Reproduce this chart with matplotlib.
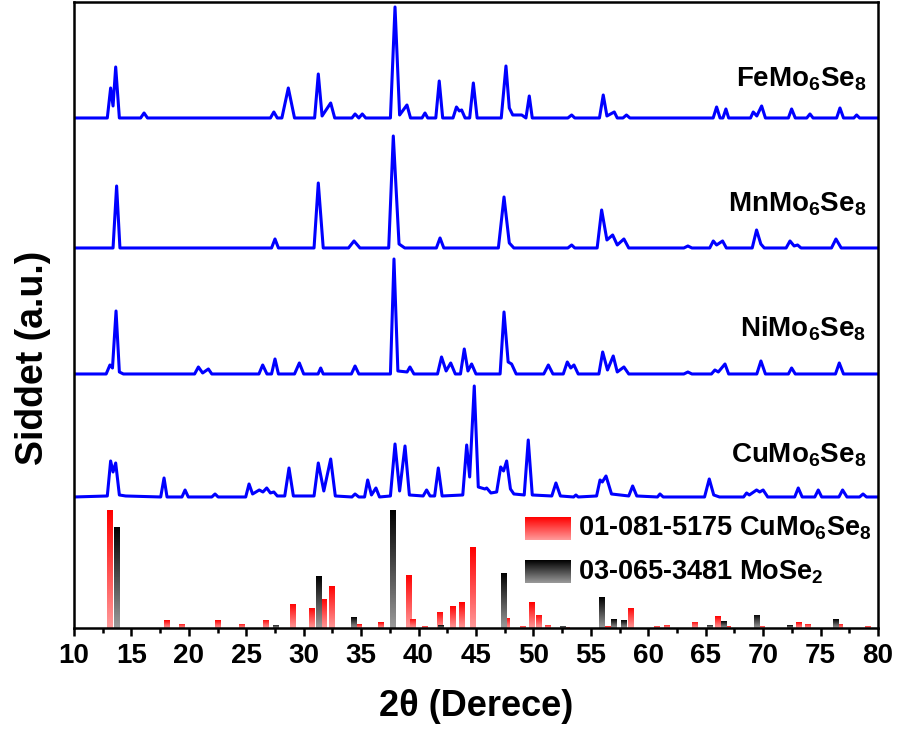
import numpy as np
import matplotlib
matplotlib.use("Agg")
import matplotlib.pyplot as plt
from matplotlib.ticker import MultipleLocator

plt.rcParams['font.family'] = ['Liberation Sans', 'DejaVu Sans']
plt.rcParams['font.weight'] = 'bold'
plt.rcParams['mathtext.fontset'] = 'custom'
plt.rcParams['mathtext.rm'] = 'Liberation Sans:bold'
plt.rcParams['mathtext.it'] = 'Liberation Sans:bold'
plt.rcParams['mathtext.bf'] = 'Liberation Sans:bold'
plt.rcParams['mathtext.default'] = 'rm'

# ---- measured patterns (2theta, intensity above each trace's baseline) ----
fe_x = [10.0, 12.9, 13.19, 13.4, 13.63, 13.95, 15.8, 16.1, 16.4, 27.1, 27.4, 27.7,
        28.1, 28.66, 29.2, 30.95, 31.27, 31.6, 32.35, 32.7, 34.2, 34.47, 34.8, 35.1,
        35.4, 37.55, 37.95, 38.35, 38.99, 39.3, 40.3, 40.56, 40.8, 41.5, 41.8, 42.1,
        43.0, 43.3, 43.55, 43.75, 44.05, 44.45, 44.77, 45.1, 47.2, 47.61, 47.9, 48.2,
        48.98, 49.35, 49.64, 49.9, 53.0, 53.33, 53.6, 55.75, 56.08, 56.4, 57.04, 57.3,
        57.8, 58.1, 58.4, 65.65, 65.95, 66.25, 66.5, 66.76, 67.0, 68.9, 69.14, 69.45,
        69.87, 70.2, 72.2, 72.48, 72.8, 73.8, 74.08, 74.35, 76.4, 76.69, 77.0, 77.9,
        78.14, 78.4, 80.0]
fe_y = [0, 0, 30, 12, 51, 0, 0, 5, 0, 0, 6, 0,
        0, 30, 0, 0, 44, 2, 15, 0, 0, 4, 0, 4,
        0, 0, 111, 3, 13, 0, 0, 5, 0, 0, 37, 0,
        0, 11, 7, 8, 0, 0, 35, 0, 0, 52, 10, 3,
        3, 0, 22, 0, 0, 3, 0, 0, 23, 2, 6, 0,
        0, 3, 0, 0, 11, 0, 0, 9, 0, 0, 6, 2,
        12, 0, 0, 9, 0, 0, 4, 0, 0, 10, 0, 0,
        3, 0, 0]

mn_x = [10.0, 13.4, 13.71, 14.0, 27.2, 27.5, 27.8, 30.9, 31.27, 31.7, 33.9, 34.38,
        34.9, 37.4, 37.8, 38.3, 38.8, 41.55, 41.87, 42.2, 46.95, 47.44, 47.9, 48.3,
        53.0, 53.33, 53.6, 55.55, 55.94, 56.4, 56.9, 57.3, 57.88, 58.3, 63.1, 63.45,
        63.8, 65.35, 65.66, 65.95, 66.47, 66.8, 69.05, 69.43, 69.8, 70.1, 72.0, 72.34,
        72.7, 73.0, 73.3, 75.95, 76.34, 76.8, 80.0]
mn_y = [0, 0, 62, 0, 0, 9, 0, 0, 65, 0, 0, 7,
        0, 0, 112, 4, 0, 0, 10, 0, 0, 51, 5, 0,
        0, 3, 0, 0, 38, 8, 13, 3, 9, 0, 0, 2,
        0, 0, 7, 3, 7, 0, 0, 18, 4, 0, 0, 7,
        2, 3, 0, 0, 9, 0, 0]

ni_x = [10.0, 12.8, 13.13, 13.35, 13.66, 13.95, 14.3, 20.5, 20.83, 21.2, 21.7, 22.0,
        26.1, 26.43, 26.8, 27.2, 27.5, 27.8, 29.2, 29.62, 30.0, 31.25, 31.48, 31.7,
        34.15, 34.47, 34.8, 37.55, 37.86, 38.2, 39.0, 39.25, 39.6, 41.65, 42.0, 42.4,
        42.8, 43.2, 43.65, 43.98, 44.3, 44.62, 45.0, 47.1, 47.44, 47.8, 48.1, 48.5,
        50.9, 51.3, 51.7, 52.6, 52.95, 53.25, 53.53, 53.9, 55.7, 56.03, 56.45, 56.95,
        57.3, 57.88, 58.3, 63.1, 63.45, 63.8, 65.5, 65.8, 66.1, 66.68, 67.0, 69.45,
        69.81, 70.2, 72.2, 72.48, 72.8, 76.3, 76.63, 77.0, 80.0]
ni_y = [0, 0, 9, 6, 63, 2, 0, 0, 7, 1, 5, 0,
        0, 9, 0, 0, 15, 0, 0, 11, 0, 0, 6, 0,
        0, 8, 0, 0, 115, 3, 2, 7, 0, 0, 17, 3,
        11, 0, 0, 25, 3, 10, 0, 0, 62, 12, 10, 0,
        0, 9, 0, 0, 12, 6, 9, 0, 0, 22, 4, 18,
        2, 7, 0, 0, 2, 0, 0, 4, 2, 10, 0, 0,
        13, 0, 0, 6, 0, 0, 11, 0, 0]

cu_x = [10.0, 12.9, 13.19, 13.4, 13.63, 13.95, 14.5, 17.55, 17.84, 18.1, 19.4, 19.67,
        19.95, 22.0, 22.28, 22.55, 24.95, 25.24, 25.55, 26.13, 26.45, 26.78, 27.1, 27.4,
        27.7, 28.35, 28.72, 29.1, 30.9, 31.27, 31.75, 32.35, 32.75, 34.2, 34.47, 34.8,
        35.3, 35.57, 35.9, 36.29, 36.6, 37.55, 37.95, 38.35, 38.82, 39.2, 40.4, 40.7,
        41.0, 41.4, 41.72, 42.05, 43.85, 44.19, 44.45, 44.85, 45.2, 45.78, 45.93, 46.3,
        46.8, 47.15, 47.4, 47.67, 48.0, 48.3, 49.2, 49.55, 49.9, 51.6, 51.96, 52.35,
        53.5, 53.7, 53.9, 55.5, 55.8, 56.0, 56.32, 56.8, 58.3, 58.64, 59.0, 60.8,
        61.02, 61.3, 64.9, 65.31, 65.7, 66.2, 68.3, 68.56, 68.8, 69.43, 69.7, 70.0,
        70.4, 72.75, 73.06, 73.4, 74.5, 74.8, 75.1, 76.6, 76.92, 77.3, 78.4, 78.7,
        79.0, 80.0]
cu_y = [0, 1, 36, 25, 34, 2, 1, 0, 19, 0, 0, 7,
        0, 0, 3, 0, 0, 13, 3, 7, 5, 9, 4, 5,
        1, 1, 29, 1, 1, 34, 6, 38, 1, 0, 3, 0,
        0, 17, 2, 9, 0, 1, 53, 6, 51, 2, 1, 7,
        1, 1, 29, 1, 2, 52, 20, 111, 10, 8, 9, 4,
        5, 30, 26, 36, 8, 3, 2, 57, 2, 1, 14, 1,
        0, 2, 0, 1, 17, 15, 21, 3, 1, 11, 1, 0,
        3, 0, 0, 18, 2, 0, 0, 4, 2, 7, 5, 7,
        0, 0, 9, 0, 0, 7, 0, 0, 7, 0, 0, 3,
        0, 0]

# reference cards (relative intensity, %)
cu_ref_pos = [13.16, 18.07, 19.43, 22.51, 24.63, 26.69, 29.04, 30.72, 31.77, 32.46,
              34.84, 36.7, 39.2, 39.49, 40.56, 41.87, 43.03, 43.75, 44.71, 47.67,
              49.1, 49.84, 50.51, 51.3, 52.9, 56.46, 58.47, 60.73, 61.6, 64.07,
              66.1, 66.9, 69.9, 73.15, 73.93, 76.69, 79.15]
cu_ref_int = [100, 6.5, 3.4, 6.5, 3.4, 6.8, 20.6, 17, 24.6, 35.9,
              3.1, 4.8, 45, 7.9, 2, 13.6, 19, 21.8, 68.4, 8.5,
              2, 21.8, 11.3, 2.8, 1, 1.4, 17, 2, 2.8, 5.1,
              9.9, 1.3, 1.7, 4.8, 3.7, 3.7, 2]
mose2_pos = [13.69, 27.59, 31.36, 34.38, 37.8, 41.93, 47.44, 52.55, 55.94, 57.0,
             57.88, 65.37, 66.59, 69.43, 72.34, 76.34]
mose2_int = [86, 2.8, 43.8, 9.3, 100, 2.5, 46.6, 2, 26, 7.6,
             6.5, 2.8, 5.7, 11.3, 2.3, 7.6]

samples = [r'FeMo$_6$Se$_8$', r'MnMo$_6$Se$_8$', r'NiMo$_6$Se$_8$', r'CuMo$_6$Se$_8$']
legend_labels = [r'01-081-5175 CuMo$_6$Se$_8$', r'03-065-3481 MoSe$_2$']

# ---- layout ----
offsets = [510, 380, 254, 131]
label_y = [541, 416, 291, 165]
card_scale = 1.18

fig = plt.figure(figsize=(8.98, 7.35), dpi=100)
ax = fig.add_axes([0.0824, 0.1456, 0.8953, 0.8517])

traces = [(fe_x, fe_y), (mn_x, mn_y), (ni_x, ni_y), (cu_x, cu_y)]
for (xs, ys), off, name, ly in zip(traces, offsets, samples, label_y):
    ax.plot(xs, np.array(ys) + off, color='#0000ff', lw=2.2, solid_joinstyle='round')
    ax.text(79.0, ly, name, ha='right', va='baseline', fontsize=20, fontweight='bold')


def gradient(top, bottom):
    top = np.array(matplotlib.colors.to_rgb(top))
    bottom = np.array(matplotlib.colors.to_rgb(bottom))
    t = np.linspace(0, 1, 64)[:, None]
    return (top * (1 - t) + bottom * t)[:, None, :]


red_grad = gradient('#ff0000', '#ff9a9a')
black_grad = gradient('#000000', '#9a9a9a')

for pos, inten, grad in [(cu_ref_pos, cu_ref_int, red_grad),
                         (mose2_pos, mose2_int, black_grad)]:
    bars = ax.bar(pos, np.array(inten) * card_scale, width=0.5, color='none',
                  edgecolor='none')
    for b in bars:
        x0, w, h = b.get_x(), b.get_width(), b.get_height()
        im = ax.imshow(grad, extent=(x0, x0 + w, 0, h), aspect='auto',
                       origin='upper', zorder=2)
        im.set_clip_path(b)

ax.set_xlim(10, 80)
ax.set_ylim(0, 626)
ax.xaxis.set_major_locator(MultipleLocator(5))
ax.xaxis.set_minor_locator(MultipleLocator(2.5))
ax.tick_params(axis='x', which='major', direction='out', length=6, width=1.8,
               labelsize=20, pad=5)
ax.tick_params(axis='x', which='minor', direction='out', length=3.5, width=1.8)
ax.set_yticks([])
for sp in ax.spines.values():
    sp.set_linewidth(1.8)
for lab in ax.get_xticklabels():
    lab.set_fontweight('bold')

ax.set_xlabel('2θ (Derece)', fontsize=26, fontweight='bold', labelpad=14)
ax.set_ylabel('Siddet (a.u.)', fontsize=27, fontweight='bold')
ax.yaxis.set_label_coords(-0.029, 0.432)

# legend swatches (gradient boxes) and texts
for grad, yb, label, ty in [(red_grad, 0.1406, legend_labels[0], 0.160),
                            (black_grad, 0.0719, legend_labels[1], 0.0895)]:
    sw = ax.inset_axes([0.561, yb, 0.056, 0.0367])
    sw.imshow(grad, aspect='auto')
    sw.axis('off')
    ax.text(0.627, ty, label, transform=ax.transAxes, ha='left', va='center',
            fontsize=19.5, fontweight='bold')

fig.savefig('out.png', dpi=100)
